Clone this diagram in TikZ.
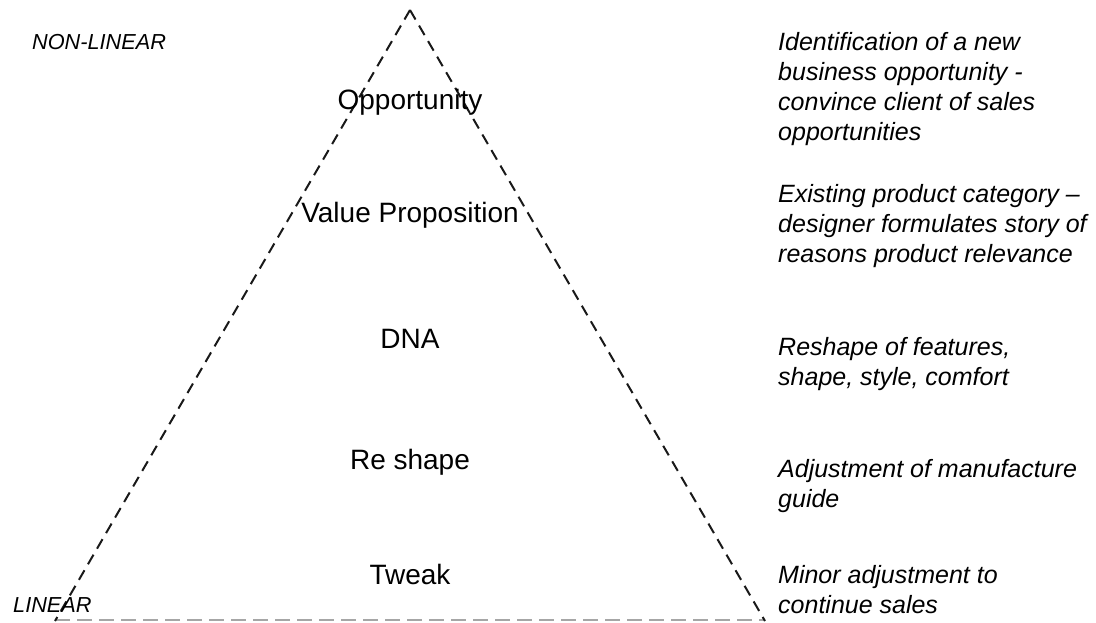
\documentclass[tikz,border=0pt]{standalone}
\usepackage{fontspec}
\setmainfont{Liberation Sans}
\begin{document}
\begin{tikzpicture}[x=1pt,y=-1pt,
  level/.style={font=\fontsize{28}{32}\selectfont, inner sep=0pt, anchor=center},
  desc/.style={font=\fontsize{25}{30}\selectfont\itshape, inner sep=0pt, anchor=west, align=left},
  corner/.style={font=\fontsize{21.7}{25}\selectfont\itshape, inner sep=0pt, anchor=west},
  side/.style={line width=2pt, dash pattern=on 11pt off 7pt, black!90},
  base/.style={line width=2pt, dash pattern=on 15pt off 7pt, black!35}]
\useasboundingbox (0,0) rectangle (1096,622);
\coordinate (apex) at (410,10);
\coordinate (bl) at (55,621);
\coordinate (br) at (765,621);
\coordinate (bl2) at (55,620);
\coordinate (br2) at (765,620);
\draw[base] (bl2) -- (br2);
\draw[side] (apex) -- (bl);
\draw[side] (apex) -- (br);
\node[level] (opp) at (410,102.5) {Opportunity};
\node[level] (val) at (410,215.5) {Value Proposition};
\node[level] (dna) at (410,339) {DNA};
\node[level] (res) at (410,462.5) {Re shape};
\node[level] (twk) at (410,574) {Tweak};
\node[corner] (nl) at (32,42) {NON-LINEAR};
\node[corner] (lin) at (13,605) {LINEAR};
\node[desc] (d1) at (778,89) {Identification of a new\\business opportunity -\\convince client of sales\\opportunities};
\node[desc] (d2) at (778,226) {Existing product category –\\designer formulates story of\\reasons product relevance};
\node[desc] (d3) at (778,364.5) {Reshape of features,\\shape, style, comfort};
\node[desc] (d4) at (778,486.5) {Adjustment of manufacture\\guide};
\node[desc] (d5) at (778,590) {Minor adjustment to\\continue sales};
\end{tikzpicture}
\end{document}
